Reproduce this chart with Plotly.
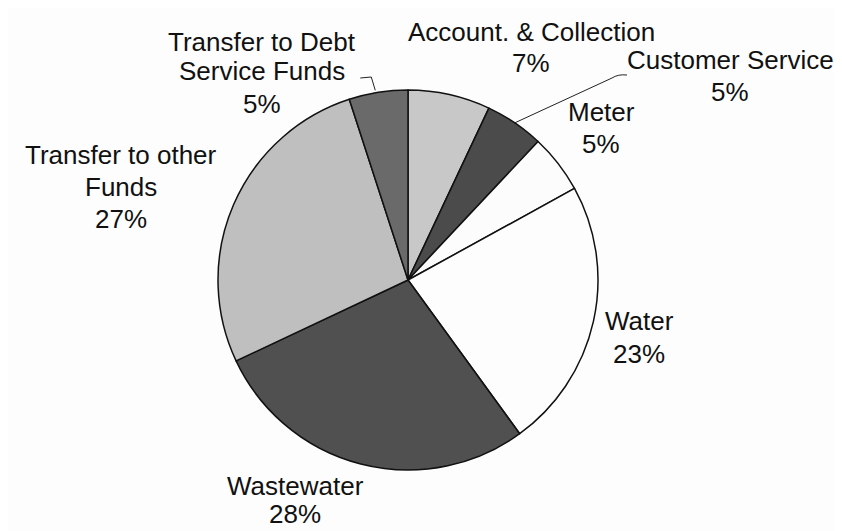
import math
import plotly.graph_objects as go

# ---- data ----
categories = ["Account. & Collection", "Customer Service", "Meter", "Water",
              "Wastewater", "Transfer to other Funds", "Transfer to Debt Service Funds"]
shares = [7, 5, 5, 23, 28, 27, 5]
label_lines = [["Account. & Collection", "7%"], ["Customer Service", "5%"], ["Meter", "5%"],
               ["Water", "23%"], ["Wastewater", "28%"], ["Transfer to other", "Funds", "27%"],
               ["Transfer to Debt", "Service Funds", "5%"]]
colors = ["#c8c8c8", "#4b4b4b", "#fcfcfc", "#fdfdfd", "#505050", "#bfbfbf", "#6a6a6a"]

W, H = 842, 531
CX, CY, R = 400, 272, 190  # pie centre / radius in pixels

def px(x):
    return x / W

def py(y):
    return 1 - y / H

# label line centres (pixels): x centre, y of each line
label_x = [523, 722, 593, 631, 287, 113, 254]
label_y = [[24, 55], [52, 84], [104, 136], [313, 346], [478, 506], [147, 179, 211], [34, 63, 96]]

fig = go.Figure(go.Pie(
    labels=categories, values=shares, sort=False, direction="clockwise", rotation=0,
    marker=dict(colors=colors, line=dict(color="#111111", width=1.5)),
    textinfo="none", hoverinfo="label+percent", showlegend=False,
    domain=dict(x=[px(CX - R), px(CX + R)], y=[py(CY + R), py(CY - R)]),
))

for lines, x, ys in zip(label_lines, label_x, label_y):
    for txt, y in zip(lines, ys):
        fig.add_annotation(x=px(x), y=py(y), xref="paper", yref="paper", text=txt,
                           showarrow=False, xanchor="center", yanchor="middle", borderpad=0,
                           font=dict(family="Liberation Sans, Arial", size=26, color="#111111"))

# leader lines from slice mid-angles
total = sum(shares)
cum = 0
mid = []
for v in shares:
    mid.append((cum + v / 2) / total * 2 * math.pi)
    cum += v

def edge(i, rr=R):
    a = mid[i]
    return CX + rr * math.sin(a), CY - rr * math.cos(a)

# Customer Service leader
x0, y0 = edge(1)
fig.add_shape(type="path", xref="paper", yref="paper",
              path=f"M {px(x0)},{py(y0)} L {px(604)},{py(70)} Q {px(610)},{py(66)} {px(619)},{py(67)}",
              line=dict(color="#222222", width=1))
# Debt Service leader (bracket)
x1, y1 = edge(6)
fig.add_shape(type="path", xref="paper", yref="paper",
              path=f"M {px(x1 - 3)},{py(y1 - 2)} L {px(x1 - 7)},{py(69)} L {px(x1 - 18)},{py(70)}",
              line=dict(color="#222222", width=1))

fig.update_layout(width=W, height=H, margin=dict(l=0, r=0, t=0, b=0),
                  paper_bgcolor="#fdfdfd", plot_bgcolor="#fdfdfd")
fig.write_html("out.html")
